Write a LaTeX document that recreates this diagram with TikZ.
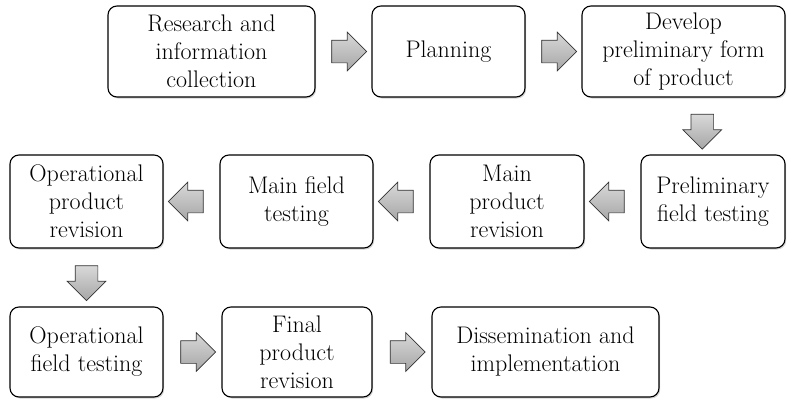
\documentclass[tikz,border=0pt]{standalone}
\usetikzlibrary{shapes.arrows,shadows,calc}
\begin{document}
\begin{tikzpicture}[x=1pt,y=-1pt,
            stage/.style={rectangle,rounded corners=9pt,draw=black,line width=1.1pt,fill=white,
              drop shadow={shadow xshift=1.2pt,shadow yshift=-1.5pt,opacity=0.35},
              align=center,inner sep=1pt,font=\fontsize{24}{28}\selectfont},
            flow/.style={single arrow,single arrow head extend=8pt,minimum width=38pt,
              minimum height=35pt,inner sep=11pt,draw=gray!40!black,line width=0.7pt,
              top color=gray!30,bottom color=gray!70}]
            \useasboundingbox (0,0) rectangle (787,399);
            \node[stage,minimum width=207pt,minimum height=91pt] (R) at (211.5,51.5) {Research and\\information\\collection};
            \node[stage,minimum width=153pt,minimum height=91pt] (P) at (448.5,51.5) {Planning};
            \node[stage,minimum width=203pt,minimum height=91pt] (D) at (683.5,51.5) {Develop\\preliminary form\\of product};
            \node[stage,minimum width=144pt,minimum height=93pt] (PFT) at (713,201.5) {Preliminary\\field testing};
            \node[stage,minimum width=154pt,minimum height=93pt] (MPR) at (507,201.5) {Main\\product\\revision};
            \node[stage,minimum width=153pt,minimum height=93pt] (MFT) at (296.5,201.5) {Main field\\testing};
            \node[stage,minimum width=153pt,minimum height=93pt] (OPR) at (86.5,201.5) {Operational\\product\\revision};
            \node[stage,minimum width=153pt,minimum height=90pt] (OFT) at (86.5,352) {Operational\\field testing};
            \node[stage,minimum width=150pt,minimum height=90pt] (FPR) at (297,352) {Final\\product\\revision};
            \node[stage,minimum width=227pt,minimum height=90pt] (DI) at (545.5,352) {Dissemination and\\implementation};

            \node[flow] (R-P) at ($(R.east)!0.5!(P.west)$) {};
            \node[flow] (P-D) at ($(P.east)!0.5!(D.west)$) {};
            \node[flow,shape border rotate=270] (D-PFT) at ($(D.south)!0.5!(PFT.north)+(4,0)$) {};
            \node[flow,shape border rotate=180] (PFT-MPR) at ($(PFT.west)!0.5!(MPR.east)$) {};
            \node[flow,shape border rotate=180] (MPR-MFT) at ($(MPR.west)!0.5!(MFT.east)$) {};
            \node[flow,shape border rotate=180] (MFT-OPR) at ($(MFT.west)!0.5!(OPR.east)$) {};
            \node[flow,shape border rotate=270] (OPR-OFT) at ($(OPR.south)!0.5!(OFT.north)$) {};
            \node[flow] (OFT-FPR) at ($(OFT.east)!0.5!(FPR.west)$) {};
            \node[flow] (FPR-DI) at ($(FPR.east)!0.5!(DI.west)$) {};
          \end{tikzpicture}
\end{document}
